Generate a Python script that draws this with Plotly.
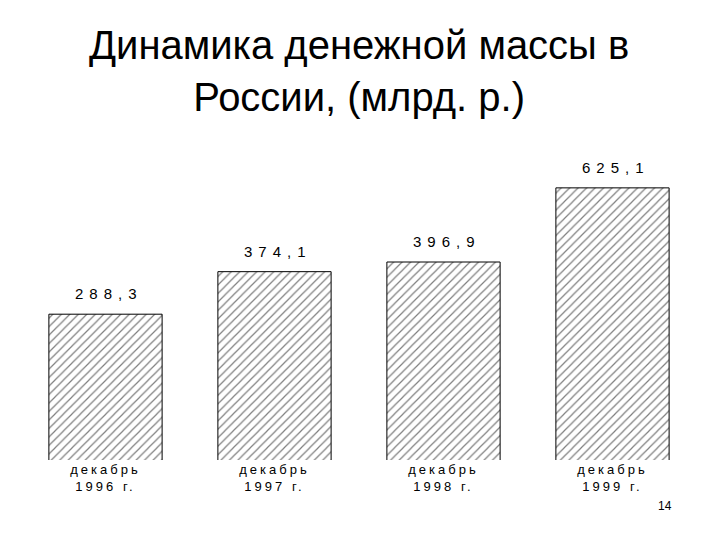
import math
import plotly.graph_objects as go

months = ["декабрь", "декабрь", "декабрь", "декабрь"]
years = ["1996 г.", "1997 г.", "1998 г.", "1999 г."]
values = [288.3, 374.1, 396.9, 625.1]
value_labels = ["288,3", "374,1", "396,9", "625,1"]
title_lines = ["Динамика денежной массы в", "России, (млрд. р.)"]
page_number = "14"

FONT = "Liberation Sans, Arial"
categories = [f"{m} {y}" for m, y in zip(months, years)]
tick_text = [f"<span style='letter-spacing:3px'>{m}</span><br><span style='letter-spacing:3px'>{y}</span>"
             for m, y in zip(months, years)]

fig = go.Figure(go.Bar(
    x=categories,
    y=values,
    marker=dict(
        color="white",
        line=dict(color="black", width=1),
        pattern=dict(shape="/", fgcolor="black", bgcolor="white", size=6, solidity=0.2),
    ),
    cliponaxis=False,
))

for c, v, lab in zip(categories, values, value_labels):
    fig.add_annotation(
        x=c, y=math.log10(v), xref="x", yref="y",
        text=f"<span style='letter-spacing:6px'>{lab}</span>",
        showarrow=False, xanchor="center", yanchor="bottom", yshift=10, xshift=3,
        font=dict(family=FONT, size=15, color="black"),
    )

fig.update_layout(
    width=720, height=540,
    margin=dict(l=13, r=31, t=143, b=88),
    paper_bgcolor="white", plot_bgcolor="white",
    bargap=0.33,
    showlegend=False,
    font=dict(family=FONT, color="black"),
    xaxis=dict(showgrid=False, showline=False, zeroline=False, ticks="",
               tickmode="array", tickvals=categories, ticktext=tick_text,
               ticklabelstandoff=0,
               tickfont=dict(size=13, family=FONT, color="black")),
    yaxis=dict(type="log", range=[2.072, 2.894], visible=False),
)

fig.add_annotation(
    text="<br>".join(title_lines), xref="paper", yref="paper",
    x=0.5, y=1, xanchor="center", yanchor="top", showarrow=False, yshift=130,
    font=dict(size=40, family=FONT, color="black"),
)
fig.add_annotation(
    text=page_number, xref="paper", yref="paper", x=0.9527, y=-0.149,
    xanchor="center", yanchor="middle", showarrow=False,
    font=dict(size=12, family=FONT, color="black"),
)

fig.write_html("out.html")
